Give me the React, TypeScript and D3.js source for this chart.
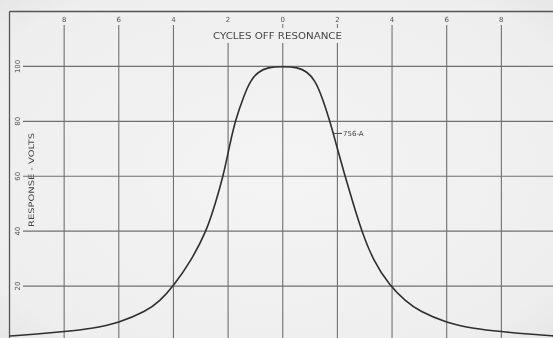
import React from "react";
import * as d3 from "d3";

const W = 553;
const H = 338;

const xTicks = [-8, -6, -4, -2, 0, 2, 4, 6, 8];
const xTickLabels = ["8", "6", "4", "2", "0", "2", "4", "6", "8"];
const yTicks = [20, 40, 60, 80, 100];
const yTickLabels = ["20", "40", "60", "80", "100"];

const cycles = [
  -10, -9, -8, -7, -6, -5, -4.5, -4, -3.34, -2.79, -2.47, -2.18, -1.97, -1.75,
  -1.4, -1.17, -0.9, -0.55, 0, 0.55, 0.9, 1.17, 1.4, 1.73, 2.0, 2.28, 2.58, 2.89,
  3.3, 3.92, 4.5, 5, 6, 7, 8, 9, 10,
];
const volts = [
  1.8, 2.5, 3.4, 4.5, 6.6, 10.8, 14.5, 20, 29.5, 40, 50, 60, 70, 80,
  90, 95, 98, 99.7, 100, 99.7, 98, 95, 90, 80, 70, 60, 50, 40,
  29.5, 20, 14.5, 10.8, 6.6, 4.5, 3.4, 2.5, 1.8,
];

const curveLabel = "756-A";
const xTitle = "CYCLES OFF RESONANCE";
const yTitle = "RESPONSE - VOLTS";

export default function App() {
  const x = d3.scaleLinear().domain([-10, 10]).range([9.5, 556]);
  const y = d3.scaleLinear().domain([0, 120]).range([341, 11.5]);

  const pts: [number, number][] = cycles.map((c, i) => [c, volts[i]]);
  const line = d3
    .line<[number, number]>()
    .x((d) => x(d[0]))
    .y((d) => y(d[1]))
    .curve(d3.curveBasis);

  const grid = "#707070";
  const font = "'DejaVu Sans', 'Liberation Sans', sans-serif";
  const labelX = 1.95;
  const labelV = 75.6;

  return (
    <svg
      width={W}
      height={H}
      style={{ position: "fixed", left: 0, top: 0, display: "block" }}
      xmlns="http://www.w3.org/2000/svg"
    >
      <defs>
        <radialGradient id="bg" cx="50%" cy="50%" r="75%">
          <stop offset="0%" stopColor="#f4f4f4" />
          <stop offset="80%" stopColor="#eeeeee" />
          <stop offset="100%" stopColor="#e4e4e4" />
        </radialGradient>
      </defs>
      <rect x={0} y={0} width={W} height={H} fill="url(#bg)" />

      {/* horizontal grid lines */}
      {yTicks.map((t) => (
        <line
          key={"h" + t}
          x1={23}
          x2={W}
          y1={y(t)}
          y2={y(t)}
          stroke={grid}
          strokeWidth={1.1}
        />
      ))}

      {/* vertical grid lines */}
      {xTicks.map((t) => {
        const underTitle = t >= -2 && t <= 2;
        return (
          <g key={"v" + t}>
            <line
              x1={x(t)}
              x2={x(t)}
              y1={underTitle ? 43 : 25}
              y2={H}
              stroke={grid}
              strokeWidth={1.1}
            />
            {underTitle && t !== -2 && (
              <line x1={x(t)} x2={x(t)} y1={24} y2={28} stroke={grid} strokeWidth={1} />
            )}
          </g>
        );
      })}

      {/* frame */}
      <line x1={x(-10)} x2={W} y1={y(120)} y2={y(120)} stroke="#555" strokeWidth={1.3} />
      <line x1={x(-10)} x2={x(-10)} y1={y(120)} y2={H} stroke="#555" strokeWidth={1.3} />

      {/* x tick labels */}
      {xTicks.map((t, i) => (
        <text
          key={"xl" + t}
          x={x(t)}
          y={22}
          fontSize={7}
          fontFamily={font}
          fill="#555"
          textAnchor="middle"
        >
          {xTickLabels[i]}
        </text>
      ))}

      {/* x title */}
      <text
        x={(213 + 342) / 2}
        y={38.5}
        fontSize={8}
        fontFamily={font}
        fill="#444"
        textAnchor="middle"
        textLength={129}
        lengthAdjust="spacingAndGlyphs"
      >
        {xTitle}
      </text>

      {/* y tick labels */}
      {yTicks.map((t, i) => (
        <text
          key={"yl" + t}
          transform={`translate(20, ${y(t)}) rotate(-90)`}
          fontSize={7}
          fontFamily={font}
          fill="#555"
          textAnchor="middle"
        >
          {yTickLabels[i]}
        </text>
      ))}

      {/* y title */}
      <text
        transform={`translate(34, 180) rotate(-90)`}
        fontSize={7.5}
        fontFamily={font}
        fill="#444"
        textAnchor="middle"
        textLength={94}
        lengthAdjust="spacingAndGlyphs"
      >
        {yTitle}
      </text>

      {/* curve */}
      <path d={line(pts) || ""} fill="none" stroke="#2f2f2f" strokeWidth={1.6} />

      {/* curve label */}
      <line
        x1={x(labelX) - 2}
        x2={x(labelX) + 6}
        y1={y(labelV)}
        y2={y(labelV)}
        stroke="#444"
        strokeWidth={1}
      />
      <text
        x={x(labelX) + 7}
        y={y(labelV) + 2.5}
        fontSize={7}
        fontFamily={font}
        fill="#444"
      >
        {curveLabel}
      </text>
    </svg>
  );
}
